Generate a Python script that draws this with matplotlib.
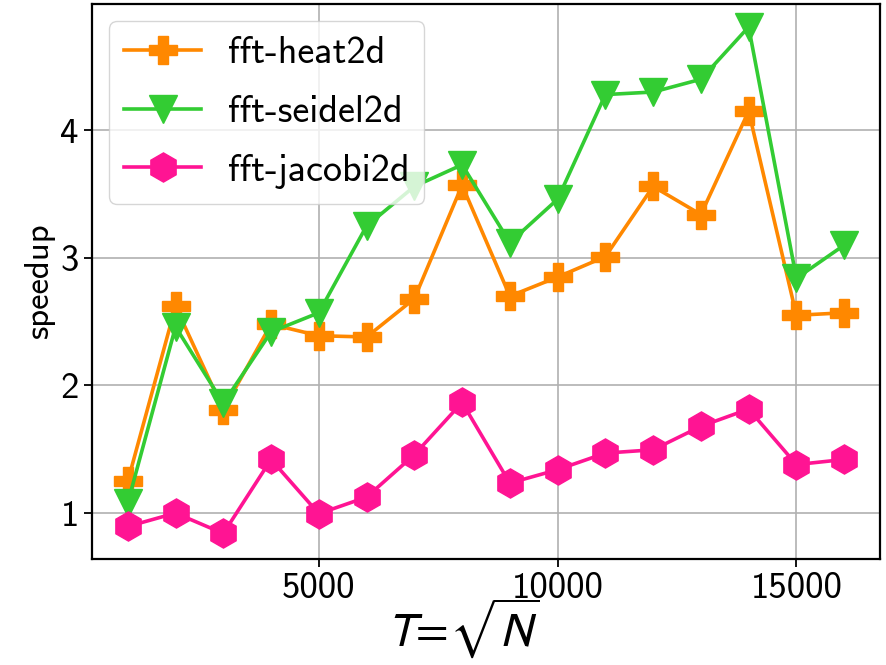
import matplotlib
matplotlib.use("Agg")
import matplotlib.pyplot as plt

plt.rcParams["font.family"] = ["cmss10", "DejaVu Sans"]
plt.rcParams["mathtext.fontset"] = "stixsans"
plt.rcParams["axes.unicode_minus"] = False

T = [1000, 2000, 3000, 4000, 5000, 6000, 7000, 8000,
     9000, 10000, 11000, 12000, 13000, 14000, 15000, 16000]
heat2d = [1.25, 2.62, 1.81, 2.48, 2.39, 2.38, 2.68, 3.57,
          2.70, 2.85, 3.01, 3.56, 3.34, 4.15, 2.55, 2.57]
seidel2d = [1.08, 2.46, 1.86, 2.42, 2.57, 3.25, 3.56, 3.73,
            3.12, 3.46, 4.28, 4.30, 4.40, 4.81, 2.84, 3.10]
jacobi2d = [0.895, 1.00, 0.84, 1.42, 0.995, 1.125, 1.457, 1.867,
            1.235, 1.34, 1.47, 1.496, 1.68, 1.815, 1.38, 1.42]

fig = plt.figure(figsize=(8.86, 6.65), dpi=100)
ax = fig.add_axes([0.1038, 0.1594, 0.8894, 0.8346])

lw = 2.6
ax.plot(T, heat2d, color="#ff8800", marker="P", markersize=20, lw=lw,
        label="fft-heat2d")
ax.plot(T, seidel2d, color="#33cc33", marker="v", markersize=20, lw=lw,
        label="fft-seidel2d")
ax.plot(T, jacobi2d, color="#ff1493", marker="h", markersize=21, lw=lw,
        label="fft-jacobi2d")

ax.set_ylim(0.64, 4.99)
ax.set_xticks([5000, 10000, 15000])
ax.set_yticks([1, 2, 3, 4])
ax.grid(True, color="#b0b0b0", linewidth=1.2)
ax.set_axisbelow(True)
for s in ax.spines.values():
    s.set_linewidth(1.6)
ax.tick_params(labelsize=26.5, width=1.3, length=6)

ax.set_ylabel("speedup", fontsize=25, labelpad=4)
ax.set_xlabel(r"$T\!=\!\sqrt{N}$", fontsize=34, labelpad=0)
ax.xaxis.set_label_coords(0.47, -0.068, transform=ax.transAxes)
ax.xaxis.label.set_verticalalignment("top")

ax.legend(loc="upper left", fontsize=27.5, handlelength=2.0,
          borderaxespad=0.45, framealpha=0.8, labelspacing=0.62,
          handletextpad=0.7)

fig.savefig("out.png", dpi=100)
